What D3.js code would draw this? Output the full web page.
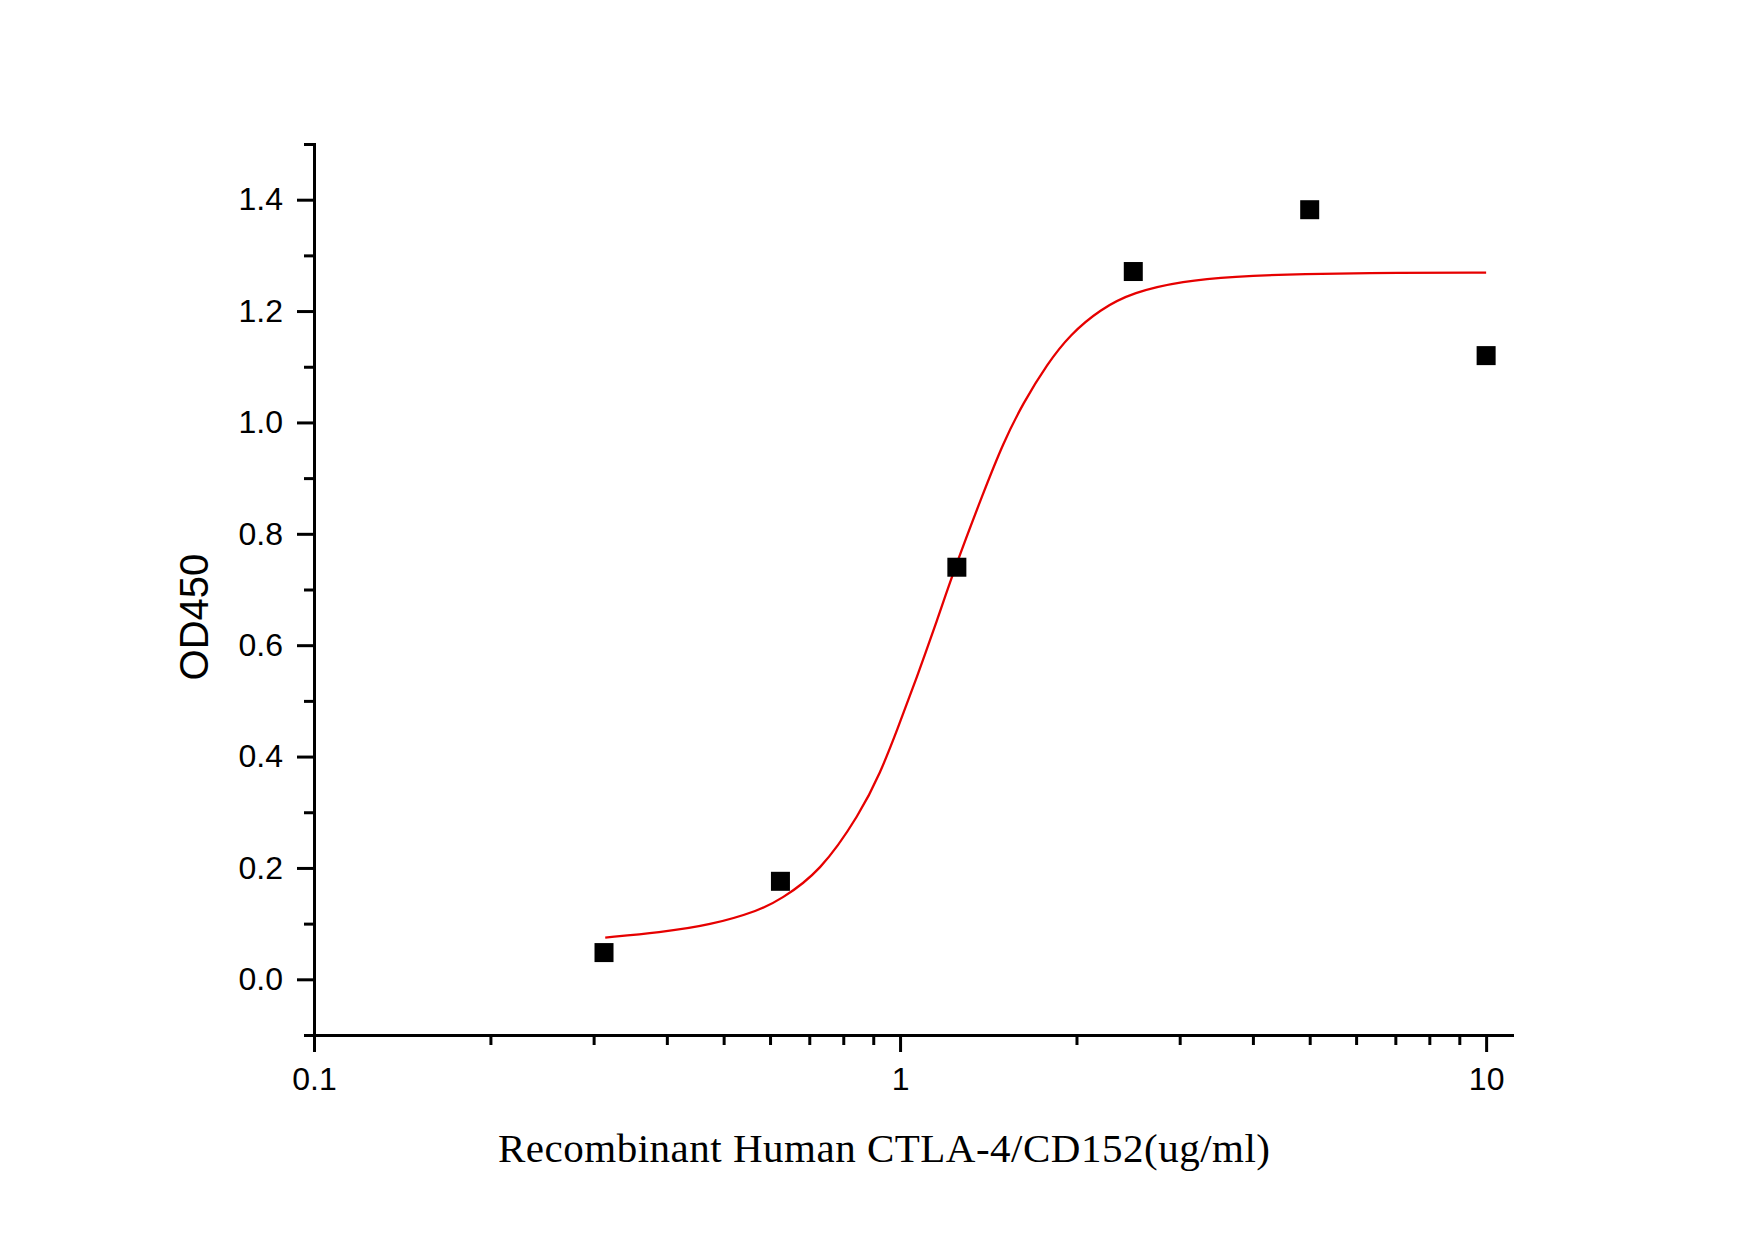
<!DOCTYPE html>
<html>
<head>
<meta charset="utf-8">
<script src="https://cdn.jsdelivr.net/npm/d3@7"></script>
<style>
  body { margin: 0; background: #fff; }
  .axis path, .axis line { stroke: #000; stroke-width: 3; }
  .axis text { font-family: "Liberation Sans", Arial, sans-serif; font-size: 32px; fill: #000; }
</style>
</head>
<body>
<div id="chart"></div>
<script>
// measured points (concentration ug/ml, OD450)
const concentration = [0.3125, 0.625, 1.25, 2.5, 5, 10];
const od450 = [0.048, 0.176, 0.740, 1.271, 1.382, 1.120];

// fitted curve
const fitX = [0.314, 0.389, 0.474, 0.577, 0.624, 0.730, 0.855, 0.925, 0.988, 1.069, 1.157,
              1.241, 1.386, 1.499, 1.622, 1.782, 1.951, 2.194, 2.498, 3.041, 3.701, 4.815, 7.13, 10];
const fitY = [0.075, 0.084, 0.097, 0.124, 0.143, 0.192, 0.298, 0.370, 0.447, 0.543, 0.645,
              0.740, 0.873, 0.963, 1.035, 1.105, 1.158, 1.203, 1.234, 1.254, 1.262, 1.267, 1.269, 1.269];

const xMajor = [0.1, 1, 10];
const yMajor = [0, 0.2, 0.4, 0.6, 0.8, 1.0, 1.2, 1.4];
const yMinor = [-0.1, 0.1, 0.3, 0.5, 0.7, 0.9, 1.1, 1.3, 1.5];

const settings = {
    width: 1755,
    height: 1240,
    left: 314,
    right: 1512,
    top: 144,
    bottom: 1035,
    xMax: 11.07,
    yMin: -0.1,
    yMax: 1.5,
};

const svg = d3.select("#chart").append("svg")
    .attr("width", settings.width)
    .attr("height", settings.height);

const x = d3.scaleLog()
    .domain([0.1, settings.xMax])
    .range([settings.left, settings.right]);

const y = d3.scaleLinear()
    .domain([settings.yMin, settings.yMax])
    .range([settings.bottom, settings.top]);

const xMinor = x.ticks().filter(v => !xMajor.some(m => Math.abs(m - v) < 1e-9));

// x axis: minor ticks then major ticks with labels
svg.append("g").attr("class", "axis")
    .attr("transform", `translate(0,${settings.bottom})`)
    .call(d3.axisBottom(x).tickValues(xMinor).tickSize(10).tickSizeOuter(0).tickFormat(""));

svg.append("g").attr("class", "axis")
    .attr("transform", `translate(0,${settings.bottom})`)
    .call(d3.axisBottom(x).tickValues(xMajor).tickSize(17).tickSizeOuter(0).tickPadding(15)
        .tickFormat(d => d < 1 ? d3.format(".1f")(d) : d3.format("d")(d)));

// y axis
svg.append("g").attr("class", "axis")
    .attr("transform", `translate(${settings.left},0)`)
    .call(d3.axisLeft(y).tickValues(yMinor).tickSize(10).tickSizeOuter(0).tickFormat(""));

svg.append("g").attr("class", "axis")
    .attr("transform", `translate(${settings.left},0)`)
    .call(d3.axisLeft(y).tickValues(yMajor).tickSize(17).tickSizeOuter(0).tickPadding(14)
        .tickFormat(d3.format(".1f")));

svg.selectAll(".axis path").attr("stroke-linecap", "square");

// fitted curve
const fitData = fitX.map((v, i) => ({ x: v, y: fitY[i] }));
svg.append("path")
    .datum(fitData)
    .attr("fill", "none")
    .attr("stroke", "#e60000")
    .attr("stroke-width", 2.3)
    .attr("d", d3.line().x(d => x(d.x)).y(d => y(d.y)).curve(d3.curveBasis));

// data markers
const size = 19;
svg.append("g")
    .selectAll("rect")
    .data(concentration.map((c, i) => ({ x: c, y: od450[i] })))
    .join("rect")
    .attr("x", d => x(d.x) - size / 2)
    .attr("y", d => y(d.y) - size / 2)
    .attr("width", size)
    .attr("height", size)
    .attr("fill", "#000");

// axis titles
svg.append("text")
    .attr("transform", "translate(194,617) rotate(-90)")
    .attr("text-anchor", "middle")
    .attr("dy", "0.36em")
    .style("font-family", "'Liberation Sans', Arial, sans-serif")
    .style("font-size", "40px")
    .text("OD450");

svg.append("text")
    .attr("x", 498)
    .attr("y", 1162)
    .attr("textLength", 772)
    .attr("lengthAdjust", "spacing")
    .style("font-family", "'Liberation Serif', 'Times New Roman', serif")
    .style("font-size", "41px")
    .text("Recombinant Human CTLA-4/CD152(ug/ml)");
</script>
</body>
</html>
